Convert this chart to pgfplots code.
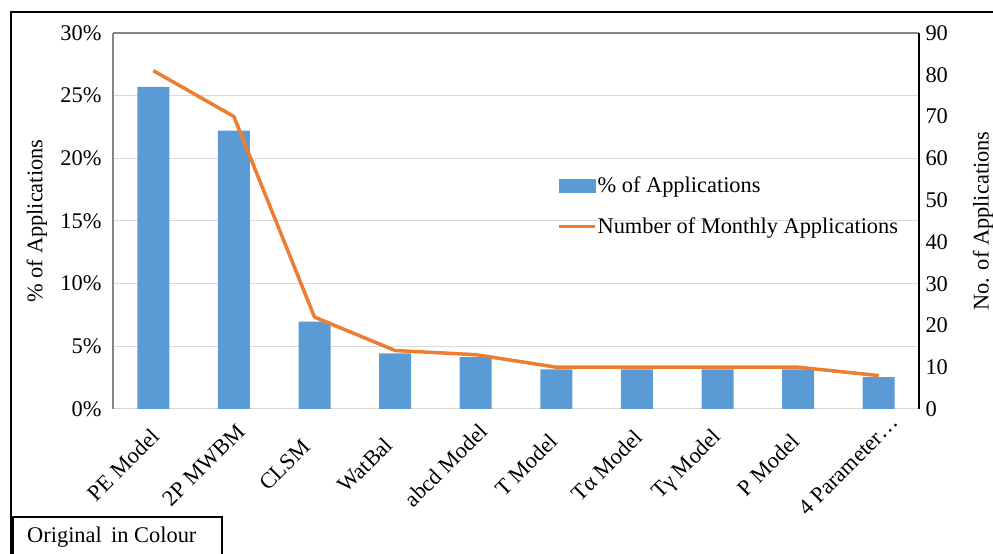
\documentclass[border=0pt]{standalone}
\usepackage{fontspec}
\setmainfont{Liberation Serif}
\usepackage{pgfplots}
\pgfplotsset{compat=1.18}
\definecolor{barblue}{RGB}{91,155,213}
\definecolor{lineorange}{RGB}{237,125,49}
\definecolor{gridgray}{RGB}{217,217,217}
\definecolor{axgray}{RGB}{134,134,134}
\newcommand{\fs}{\fontsize{22.4}{26}\selectfont}

\begin{document}
\begin{tikzpicture}
\path[use as bounding box] (0pt,0pt) rectangle (993pt,554pt);
% outer frame and caption box
\draw[line width=1.5pt] (11pt,0pt) -- (11pt,542pt) -- (993pt,542pt);
\draw[line width=1.2pt] (13pt,0pt) -- (13pt,37pt) -- (222pt,37pt) -- (222pt,0pt);
\node[anchor=west,inner sep=0pt,font=\fs] at (27pt,17pt) {Original\, in Colour};

\begin{axis}[
  at={(113pt,145pt)}, anchor=south west,
  scale only axis, width=806pt, height=376pt,
  xmin=-0.5, xmax=9.5,
  ymin=0, ymax=30,
  ytick={0,5,...,30},
  yticklabel={\pgfmathprintnumber{\tick}\%},
  xtick={0,...,9},
  xticklabels={PE Model,2P MWBM,CLSM,WatBal,abcd Model,T Model,Tα Model,Tγ Model,P Model,4 Parameter…},
  axis x line*=bottom, axis y line*=left,
  x axis line style={draw=gridgray,line width=1pt},
  y axis line style={draw=axgray,line width=1.2pt},
  major tick length=0pt,
  ymajorgrids, grid style={draw=gridgray,line width=1pt},
  /pgf/number format/assume math mode=true,
  tick label style={font=\fs},
  yticklabel style={xshift=-8pt},
  xticklabel style={xshift=-30pt,yshift=-56pt,rotate=45,anchor=center},
  ylabel={\% of Applications},
  ylabel style={font=\fs,at={(axis description cs:-0.0943,0.5)},anchor=center},
  ybar, bar width=32pt,
  clip=false,
]
\addplot[fill=barblue,draw=none] coordinates {
  (0,25.71)(1,22.22)(2,6.98)(3,4.44)(4,4.13)
  (5,3.17)(6,3.17)(7,3.17)(8,3.17)(9,2.54)
};
\draw[axgray,line width=1.2pt] (rel axis cs:0,1) -- (rel axis cs:1,1);
\end{axis}

\begin{axis}[
  at={(113pt,145pt)}, anchor=south west,
  scale only axis, width=806pt, height=376pt,
  xmin=-0.5, xmax=9.5,
  ymin=0, ymax=90,
  ytick={0,10,...,90},
  axis y line*=right, axis x line=none,
  y axis line style={draw=black,line width=1.2pt},
  major tick length=0pt,
  /pgf/number format/assume math mode=true,
  tick label style={font=\fs},
  yticklabel style={xshift=3pt},
  ylabel={No. of Applications},
  ylabel style={font=\fs,at={(axis description cs:1.0794,0.5)},anchor=center},
  legend style={at={(axis description cs:0.547,0.626)},anchor=north west,
    draw=none,fill=none,font=\fs,row sep=22pt,
    nodes={inner sep=1pt}},
  legend cell align=left,
  clip=false,
]
\addlegendimage{legend image code/.code={\fill[barblue] (0pt,-6.5pt) rectangle (36pt,6.5pt);}}
\addlegendentry{\% of Applications}
\addplot[lineorange,line width=3.5pt,line join=round,
  legend image code/.code={\draw[lineorange,line width=3.5pt] (0pt,0pt) -- (36pt,0pt);}]
  coordinates {
  (0,81)(1,70)(2,22)(3,14)(4,13)
  (5,10)(6,10)(7,10)(8,10)(9,8)
};
\addlegendentry{Number of Monthly Applications}
\end{axis}
\end{tikzpicture}
\end{document}
